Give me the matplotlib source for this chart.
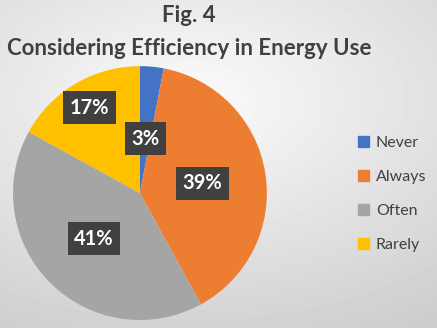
import numpy as np
import matplotlib.pyplot as plt

# data
labels = ["Never", "Always", "Often", "Rarely"]
values = [3, 39, 41, 17]
colors = ["#4472C4", "#ED7D31", "#A5A5A5", "#FFC000"]
# label positions (fraction of radius)
label_r = [0.43, 0.50, 0.51, 0.78]

fig = plt.figure(figsize=(4.37, 3.28), dpi=100)

# background radial gradient
bg = fig.add_axes([0, 0, 1, 1])
yy, xx = np.mgrid[0:328, 0:437]
d = np.sqrt(((xx - 190) / 380.0) ** 2 + ((yy - 100) / 230.0) ** 2)
shade = np.clip(0.985 - 0.16 * d, 0, 1)
bg.imshow(shade, cmap="gray", vmin=0, vmax=1, aspect="auto")
bg.axis("off")

fig.text(0.432, 0.952, "Fig. 4", ha="center", va="center", fontsize=16,
         fontweight="bold", color="#404040", family="Lato")
fig.text(0.432, 0.853, "Considering Efficiency in Energy Use", ha="center",
         va="center", fontsize=16, fontweight="bold", color="#404040", family="Lato")

ax = fig.add_axes([0.0297, 0.0244, 0.581, 0.774])
wedges, _ = ax.pie(values, colors=colors, startangle=90, counterclock=False,
                   radius=1.0)
ax.set_xlim(-1, 1)
ax.set_ylim(-1, 1)
ax.axis("off")

start = 90.0
total = sum(values)
for v, r in zip(values, label_r):
    mid = np.deg2rad(start - 360.0 * v / total / 2)
    start -= 360.0 * v / total
    x, y = r * np.cos(mid), r * np.sin(mid)
    ax.text(x, y, f"{v}%", ha="center", va="center", fontsize=14.5,
            fontweight="bold", color="white", family="Lato",
            bbox=dict(boxstyle="square,pad=0.32", fc="#404040", ec="none"))

# legend
handles = [plt.Rectangle((0, 0), 1, 1, color=c) for c in colors]
fig.legend(handles, labels, loc="center left", bbox_to_anchor=(0.787, 0.408),
           frameon=False, handlelength=0.65, handleheight=0.65,
           handletextpad=0.45, labelspacing=1.25, labelcolor="#404040",
           prop={"family": "Lato", "size": 11.5})

fig.savefig("out.png", dpi=100)
